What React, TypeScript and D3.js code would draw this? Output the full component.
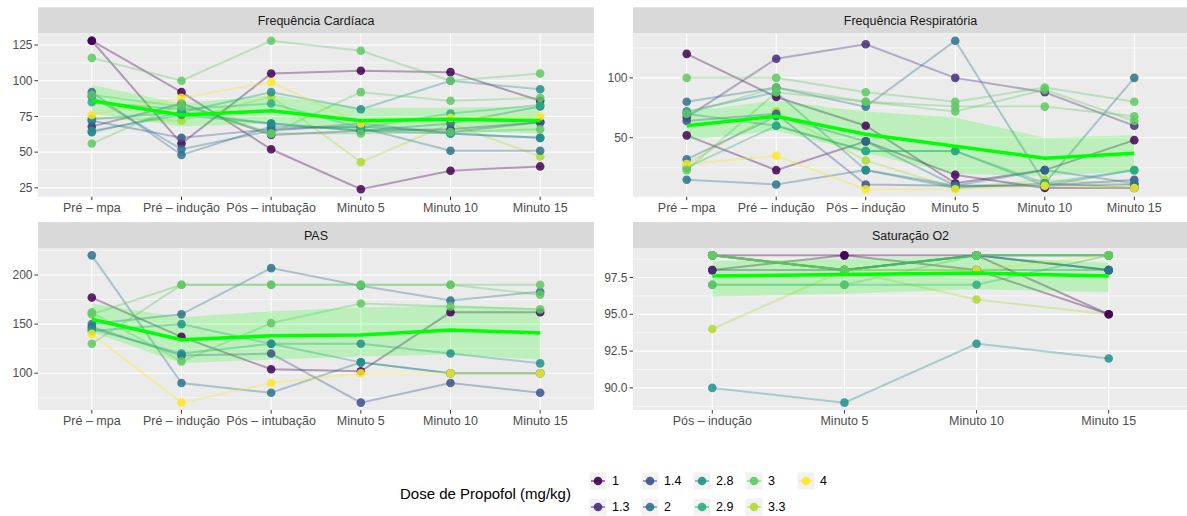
import * as d3 from "d3";

// dose levels (legend order) and dose of each patient (row order = drawing order)
const doseLevels = ["1", "1.3", "1.4", "2", "2.8", "2.9", "3", "3.3", "4"];
const patientDose = ["3.3", "1", "1", "1.3", "1.4", "2", "2", "2", "2.8", "2.8", "2.9", "4", "3", "3", "3"];

const timesFC = ["Pré – mpa", "Pré – indução", "Pós – intubação", "Minuto 5", "Minuto 10", "Minuto 15"];
const timesFR = ["Pré – mpa", "Pré – indução", "Pós – indução", "Minuto 5", "Minuto 10", "Minuto 15"];
const timesSat = ["Pós – indução", "Minuto 5", "Minuto 10", "Minuto 15"];

// Frequência Cardíaca
const fcValues = [
  [74, 72, 89, 43, 70, 47],
  [128, 56, 105, 107, 106, 86],
  [128, 92, 52, 24, 37, 40],
  [68, 84, 62, 65, 66, 71],
  [72, 60, 66, 68, 64, 71],
  [92, 48, 68, 67, 51, 51],
  [89, 52, 65, 70, 63, 60],
  [64, 78, 70, 65, 70, 82],
  [73, 78, 92, 80, 100, 94],
  [65, 76, 70, 65, 63, 60],
  [85, 80, 84, 67, 77, 83],
  [76, 88, 99, 70, 74, 75],
  [116, 100, 128, 121, 100, 105],
  [56, 84, 63, 92, 86, 88],
  [90, 82, 63, 63, 64, 66],
];
const fcMean = [86, 76, 79, 72, 73, 72];
const fcLow = [77, 68, 70, 64, 65, 63];
const fcHigh = [97, 84, 90, 81, 81, 82];
const fcTicks = [25, 50, 75, 100, 125];

// Frequência Respiratória
const frValues = [
  [28, 72, 31, 8, 15, 11],
  [120, 84, 60, 12, 23, 48],
  [52, 23, 47, 19, 8, 8],
  [67, 116, 128, 100, 88, 60],
  [64, 70, 11, 10, 10, 15],
  [80, 92, 76, 131, 12, 100],
  [15, 11, 23, 10, 10, 11],
  [32, 68, 47, 10, 23, 12],
  [72, 88, 23, 8, 12, 8],
  [70, 60, 39, 39, 10, 23],
  [25, 60, 39, 39, 12, 23],
  [28, 35, 7, 7, 10, 8],
  [100, 100, 88, 80, 92, 80],
  [23, 88, 80, 76, 76, 68],
  [70, 92, 80, 72, 90, 64],
];
const frMean = [60, 68, 53, 43, 33, 37];
const frLow = [48, 56, 37, 20, 18, 22];
const frHigh = [72, 81, 72, 67, 50, 52];
const frTicks = [50, 100];

// PAS
const pasValues = [
  null,
  [177, 137, 104, 102, 162, 162],
  null,
  null,
  [147, 118, 120, 70, 90, 80],
  [220, 90, 80, 111, 100, 100],
  [150, 160, 207, 189, 174, 183],
  null,
  [143, 150, 130, 130, 120, 110],
  [145, 120, 130, 111, 100, 100],
  null,
  [140, 70, 90, 100, 100, 100],
  [130, 190, 190, 190, 190, 190],
  [162, 112, 151, 171, 168, 165],
  [160, 190, 190, 190, 190, 180],
];
const pasMean = [155, 134, 138, 139, 144, 141];
const pasLow = [142, 110, 114, 117, 119, 114];
const pasHigh = [171, 157, 163, 167, 169, 166];
const pasTicks = [100, 150, 200];

// Saturação O2
const satValues = [
  [94, 98, 96, 95],
  [98, 99, 99, 95],
  [99, 99, 98, 95],
  [98, 98, 99, 98],
  [99, 98, 99, 98],
  [99, 98, 99, 98],
  [99, 98, 98, 98],
  [99, 98, 99, 99],
  [90, 89, 93, 92],
  [99, 98, 99, 99],
  [97, 97, 97, 99],
  [99, 98, 98, 99],
  [99, 98, 99, 99],
  [99, 98, 99, 99],
  [97, 97, 99, 99],
];
const satMean = [97.6, 97.7, 97.8, 97.6];
const satLow = [96.2, 96.4, 96.7, 96.5];
const satHigh = [98.6, 98.8, 98.9, 98.5];
const satTicks = [90, 92.5, 95, 97.5];

const color = d3
  .scaleOrdinal<string, string>()
  .domain(doseLevels)
  .range(doseLevels.map((_, i) => d3.interpolateViridis(i / (doseLevels.length - 1))));

const FONT = "'Liberation Sans', Arial, Helvetica, sans-serif";

type PanelDef = {
  title: string;
  times: string[];
  values: (number[] | null)[];
  mean: number[];
  low: number[];
  high: number[];
  ticks: number[];
  fmt: (v: number) => string;
  left: number;
  right: number;
  top: number;
  bottom: number;
};

const Panel = ({ p }: { p: PanelDef }) => {
  const x = d3.scalePoint<string>().domain(p.times).range([p.left, p.right]).padding(0.6);
  const all: number[] = [];
  p.values.forEach((r) => r && all.push(...r));
  all.push(...p.low, ...p.high);
  const [mn, mx] = d3.extent(all) as [number, number];
  const pad = (mx - mn) * 0.05;
  const y = d3.scaleLinear().domain([mn - pad, mx + pad]).range([p.bottom, p.top]);
  const step = p.ticks[1] - p.ticks[0];
  const minor = [p.ticks[0] - step / 2, ...p.ticks.map((t) => t + step / 2)].filter(
    (v) => v >= mn - pad && v <= mx + pad
  );
  const line = d3
    .line<number>()
    .x((_, i) => x(p.times[i])!)
    .y((d) => y(d));
  const area = d3
    .area<number>()
    .x((_, i) => x(p.times[i])!)
    .y0((_, i) => y(p.low[i]))
    .y1((d) => y(d));
  const w = p.right - p.left;
  return (
    <g>
      <rect x={p.left} y={p.top - 26} width={w} height={26} fill="#d9d9d9" />
      <text
        x={p.left + w / 2}
        y={p.top - 8.5}
        textAnchor="middle"
        fontSize={12.5}
        fill="#1a1a1a"
        fontFamily={FONT}
      >
        {p.title}
      </text>
      <rect x={p.left} y={p.top} width={w} height={p.bottom - p.top} fill="#ebebeb" />
      {minor.map((v) => (
        <line key={"m" + v} x1={p.left} x2={p.right} y1={y(v)} y2={y(v)} stroke="#fff" strokeWidth={0.6} />
      ))}
      {p.ticks.map((v) => (
        <line key={"t" + v} x1={p.left} x2={p.right} y1={y(v)} y2={y(v)} stroke="#fff" strokeWidth={1.1} />
      ))}
      {p.times.map((t) => (
        <line key={t} x1={x(t)} x2={x(t)} y1={p.top} y2={p.bottom} stroke="#fff" strokeWidth={1.1} />
      ))}
      {p.values.map((r, i) =>
        r ? (
          <path
            key={"l" + i}
            d={line(r)!}
            fill="none"
            stroke={color(patientDose[i])}
            strokeOpacity={0.35}
            strokeWidth={2}
          />
        ) : null
      )}
      <path d={area(p.high)!} fill="#00ff00" fillOpacity={0.2} />
      {p.values.map((r, i) =>
        r
          ? r.map((v, j) => (
              <circle
                key={i + "-" + j}
                cx={x(p.times[j])}
                cy={y(v)}
                r={4.3}
                fill={color(patientDose[i])}
                fillOpacity={0.85}
              />
            ))
          : null
      )}
      <path d={line(p.mean)!} fill="none" stroke="#00ff00" strokeWidth={3.5} />
      {p.ticks.map((v) => (
        <g key={"yl" + v}>
          <line x1={p.left - 3.5} x2={p.left} y1={y(v)} y2={y(v)} stroke="#333" />
          <text
            x={p.left - 5.5}
            y={y(v)}
            dy="0.35em"
            textAnchor="end"
            fontSize={12}
            fill="#4d4d4d"
            fontFamily={FONT}
          >
            {p.fmt(v)}
          </text>
        </g>
      ))}
      {p.times.map((t) => (
        <g key={"xl" + t}>
          <line x1={x(t)} x2={x(t)} y1={p.bottom} y2={p.bottom + 3.5} stroke="#333" />
          <text
            x={x(t)}
            y={p.bottom + 15}
            textAnchor="middle"
            fontSize={12.5}
            fill="#4d4d4d"
            fontFamily={FONT}
          >
            {t}
          </text>
        </g>
      ))}
    </g>
  );
};

const App = () => {
  const W = 1187,
    H = 516;
  const colL = [38, 594],
    colR = [633, 1188];
  const rowT = [33.3, 196.7],
    rowB = [248, 410];
  const intFmt = (v: number) => String(v);
  const decFmt = (v: number) => v.toFixed(1);
  const panels: PanelDef[] = [
    { title: "Frequência Cardíaca", times: timesFC, values: fcValues, mean: fcMean, low: fcLow, high: fcHigh, ticks: fcTicks, fmt: intFmt, left: colL[0], right: colL[1], top: rowT[0], bottom: rowT[1] },
    { title: "Frequência Respiratória", times: timesFR, values: frValues, mean: frMean, low: frLow, high: frHigh, ticks: frTicks, fmt: intFmt, left: colR[0], right: colR[1], top: rowT[0], bottom: rowT[1] },
    { title: "PAS", times: timesFC, values: pasValues, mean: pasMean, low: pasLow, high: pasHigh, ticks: pasTicks, fmt: intFmt, left: colL[0], right: colL[1], top: rowB[0], bottom: rowB[1] },
    { title: "Saturação O2", times: timesSat, values: satValues, mean: satMean, low: satLow, high: satHigh, ticks: satTicks, fmt: decFmt, left: colR[0], right: colR[1], top: rowB[0], bottom: rowB[1] },
  ];

  // legend: 2 rows, filled by column
  const legendX0 = 598,
    legendColW = 52,
    legendRowY = [481, 507];

  return (
    <svg
      width={W}
      height={H}
      style={{ position: "absolute", left: 0, top: 0, background: "#fff" }}
    >
      {panels.map((p) => (
        <Panel key={p.title} p={p} />
      ))}
      <text x={400} y={499} fontSize={15} fill="#000" fontFamily={FONT}>
        Dose de Propofol (mg/kg)
      </text>
      {doseLevels.map((d, i) => {
        const cx = legendX0 + Math.floor(i / 2) * legendColW;
        const cy = legendRowY[i % 2];
        return (
          <g key={d}>
            <rect x={cx - 8.5} y={cy - 8.5} width={17} height={17} fill="#f2f2f2" />
            <line x1={cx - 7} x2={cx + 7} y1={cy} y2={cy} stroke={color(d)} strokeOpacity={0.5} strokeWidth={2} />
            <circle cx={cx} cy={cy} r={4.3} fill={color(d)} fillOpacity={0.9} />
            <text x={cx + 14} y={cy} dy="0.35em" fontSize={12.5} fill="#000" fontFamily={FONT}>
              {d}
            </text>
          </g>
        );
      })}
    </svg>
  );
};

export default App;
